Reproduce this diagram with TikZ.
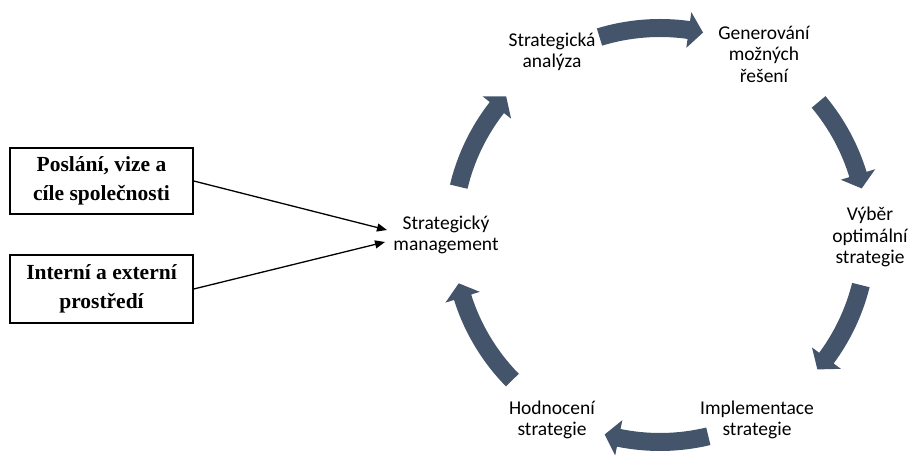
\documentclass[tikz,border=0pt]{standalone}
\usepackage{fontspec}
\setmainfont{Carlito}
\newfontfamily\boxfont{Liberation Serif}
\usetikzlibrary{arrows.meta}
\definecolor{cyclearrow}{HTML}{44546A}
\tikzset{
  steplabel/.style={align=center, font=\fontsize{19.5}{21.5}\selectfont, inner sep=0pt},
  inputbox/.style={draw, line width=1.5pt, minimum width=183pt, minimum height=66pt,
    align=center, inner sep=0pt, font=\boxfont\bfseries\fontsize{21.5}{28.5}\selectfont},
  feed/.style={line width=1.3pt, -{Triangle[length=10pt,width=8pt]}},
}
% curved block arrow on the cycle: #1 = tail angle, #2 = tip angle (clockwise)
\newcommand{\cyclearc}[2]{%
  \fill[cyclearrow] (#1:216pt) arc[start angle=#1, end angle=#2+4, radius=216pt]
    -- (#2+4:225pt) -- (#2:207pt) -- (#2+4:189pt) -- (#2+4:198pt)
    arc[start angle=#2+4, end angle=#1, radius=198pt] -- cycle;
}
\begin{document}
\begin{tikzpicture}[x=1pt,y=1pt]
\useasboundingbox (0,0) rectangle (909,457);

% cycle steps
\node[steplabel] (sa)  at (552,405) {Strategická\\analýza};
\node[steplabel] (gen) at (764,403) {Generování\\možných\\řešení};
\node[steplabel] (vyb) at (870,220) {Výběr\\optimální\\strategie};
\node[steplabel] (imp) at (757,37)  {Implementace\\strategie};
\node[steplabel] (hod) at (552,37)  {Hodnocení\\strategie};
\node[steplabel] (sm)  at (446,222) {Strategický\\management};

% curved arrows between the steps
\begin{scope}[shift={(660,222)}]
  \cyclearc{107}{78}
  \cyclearc{40}{13}
  \cyclearc{-14}{-40.5}
  \cyclearc{-76.5}{-105.5}
  \cyclearc{-135.5}{-166.5}
  \cyclearc{166.5}{138}
\end{scope}

% inputs
\node[inputbox] (mise) at (101.5,276) {Poslání, vize a\\cíle společnosti};
\node[inputbox, minimum height=68pt] (prost) at (101.5,168) {Interní a externí\\prostředí};
\coordinate (in1) at (387,227);
\coordinate (in2) at (385,215);
\draw[feed] (mise.east) -- (in1);
\draw[feed] (prost.east) -- (in2);
\end{tikzpicture}
\end{document}
